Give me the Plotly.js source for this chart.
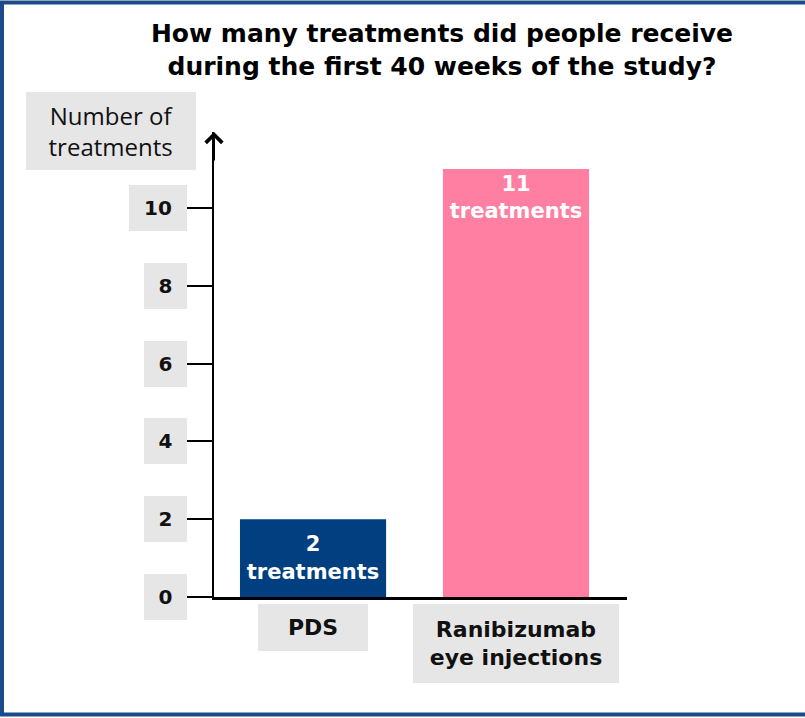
<!DOCTYPE html>
<html>
<head>
<meta charset="utf-8">
<script src="https://cdn.plot.ly/plotly-3.0.1.min.js"></script>
<style>html,body{margin:0;padding:0;background:#fff;}#chart{width:805px;height:718px;}</style>
</head>
<body>
<div id="chart"></div>
<script>
// ---- data ----
const categories = ["PDS", "Ranibizumab<br>eye injections"];
const values = [2, 11];
const barLabels = ["2<br>treatments", "11<br>treatments"];
const barColors = ["#013f80", "#ff7fa2"];
const yTickVals = [0, 2, 4, 6, 8, 10];
const yTickText = ["0", "2", "4", "6", "8", "10"];
const titleText = "How many treatments did people receive<br>during the first 40 weeks of the study?";
const yTitleText = "Number of<br>treatments";

// ---- layout helpers (pixels) ----
const W = 805, H = 718;
const M = {l: 214, r: 178, t: 132, b: 121};
const PW = W - M.l - M.r, PH = H - M.t - M.b;
const px2x = p => (p - M.l) / PW;
const px2y = p => (H - M.b - p) / PH;

const FONT = "DejaVu Sans";
const GREY = "#e6e6e6";

const traces = categories.map((c, i) => ({
  type: "bar",
  x: [c],
  y: [values[i]],
  width: 0.72,
  marker: {color: barColors[i], line: {width: 0}},
  text: [barLabels[i]],
  textposition: "inside",
  insidetextanchor: i === 0 ? "middle" : "end",
  textangle: 0,
  constraintext: "none",
  textfont: {family: FONT, size: 21, color: "#ffffff", weight: "bold"},
  hoverinfo: "skip",
  showlegend: false
}));

const annotations = [];
// y tick labels in grey boxes
yTickVals.forEach((v, i) => {
  annotations.push({
    xref: "paper", yref: "y", x: 0, y: v,
    xanchor: "right", yanchor: "middle", xshift: -27,
    text: yTickText[i], showarrow: false,
    font: {family: FONT, size: 20, color: "#111", weight: "bold"},
    bgcolor: GREY, borderpad: 0, borderwidth: 0,
    width: yTickText[i].length > 1 ? 58 : 43, height: 46
  });
});
// category labels in grey boxes
categories.forEach((c, i) => {
  annotations.push({
    xref: "x", yref: "paper", x: c, y: 0,
    xanchor: "center", yanchor: "top", yshift: -7,
    text: c, showarrow: false,
    font: {family: FONT, size: 22, color: "#111", weight: "bold"},
    bgcolor: GREY, borderpad: 0, borderwidth: 0,
    width: i === 0 ? 110 : 206, height: i === 0 ? 47 : 79
  });
});
// y axis title box
annotations.push({
  xref: "paper", yref: "paper", x: 0, y: 1,
  xanchor: "center", yanchor: "middle", xshift: -103, yshift: 1,
  text: yTitleText, showarrow: false,
  font: {family: "Open Sans", size: 24, color: "#111"},
  bgcolor: GREY, borderpad: 0, borderwidth: 0,
  width: 170, height: 78
});
// arrow head on the y axis
annotations.push({
  xref: "paper", yref: "paper", x: 0, y: 1,
  ax: 0, ay: 30, text: "", showarrow: true,
  arrowhead: 4, arrowsize: 1.6, arrowwidth: 2, arrowcolor: "#000", standoff: 0
});

const layout = {
  width: W, height: H,
  margin: M,
  paper_bgcolor: "#fff", plot_bgcolor: "#fff",
  barmode: "overlay",
  title: {
    text: titleText, xref: "container", yref: "container",
    x: 442 / W, xanchor: "center", y: 1 - 42 / H, yanchor: "top",
    font: {family: FONT, size: 25, color: "#000", weight: "bold"}
  },
  xaxis: {
    type: "category", range: [-0.488, 1.547],
    showline: true, linecolor: "#000", linewidth: 3,
    showticklabels: false, ticks: "", showgrid: false, zeroline: false,
    fixedrange: true
  },
  yaxis: {
    range: [0, PH / 38.9],
    showline: true, linecolor: "#000", linewidth: 2,
    tickvals: yTickVals, ticks: "outside", ticklen: 26, tickwidth: 2, tickcolor: "#000",
    showticklabels: false, showgrid: false, zeroline: false,
    fixedrange: true
  },
  annotations: annotations,
  shapes: [{
    type: "rect", xref: "paper", yref: "paper",
    x0: px2x(2), x1: px2x(830), y0: px2y(714.5), y1: px2y(2.5),
    line: {color: "#1b4b88", width: 4}, fillcolor: "rgba(0,0,0,0)", layer: "above"
  }]
};

Plotly.newPlot("chart", traces, layout, {displayModeBar: false, staticPlot: true});
</script>
</body>
</html>
